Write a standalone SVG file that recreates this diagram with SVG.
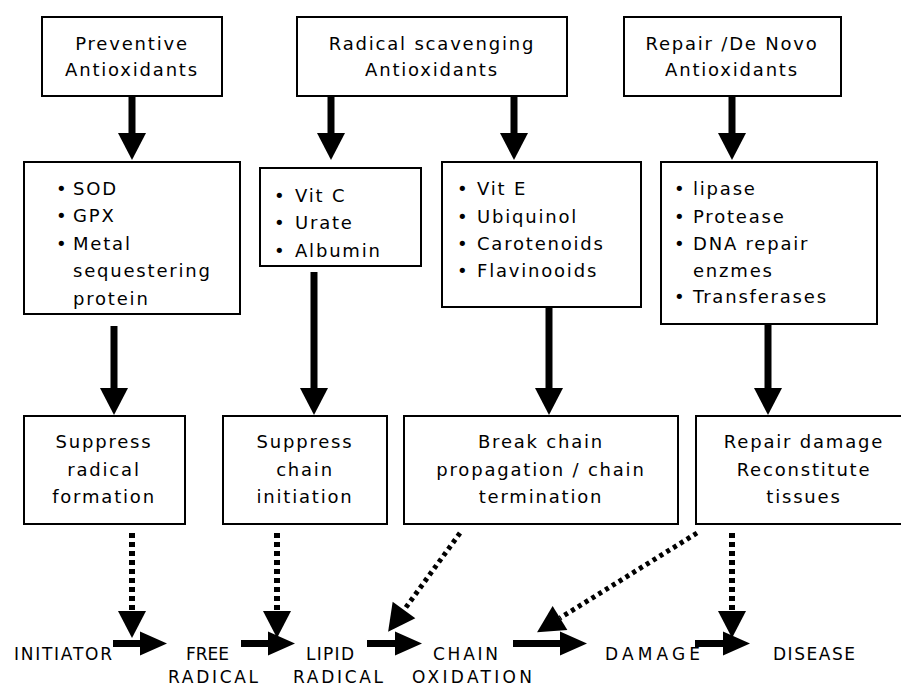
<svg xmlns="http://www.w3.org/2000/svg" width="901" height="686" viewBox="0 0 901 686">
<defs>
<marker id="hv" markerUnits="userSpaceOnUse" markerWidth="28" markerHeight="28" refX="0" refY="14" orient="auto" overflow="visible"><path d="M0,0 L27,14 L0,28 Z" fill="#000"/></marker>
<marker id="hh" markerUnits="userSpaceOnUse" markerWidth="28" markerHeight="26" refX="0" refY="12" orient="auto" overflow="visible"><path d="M0,0 L27,12 L0,24 Z" fill="#000"/></marker>
</defs>
<style>
rect{fill:#fff;stroke:#000;stroke-width:2}
text{font-family:"DejaVu Sans","Liberation Sans",sans-serif;font-size:18px;letter-spacing:1.8px;fill:#000}
.c{text-anchor:middle}
.cap{font-size:17px;letter-spacing:0}
.s{stroke:#000;stroke-width:7;fill:none}
.sv{marker-end:url(#hv)}
.sh{marker-end:url(#hh)}
.d{stroke:#000;stroke-width:6;stroke-dasharray:5 4;fill:none;marker-end:url(#hv)}
.dd{stroke:#000;stroke-width:5;stroke-dasharray:4 4;fill:none;marker-end:url(#hv)}
</style>
<rect x="0" y="0" width="901" height="686" style="stroke:none"/>
<g id="connectors">
<line class="s sv" x1="132" y1="92" x2="132" y2="133"/>
<line class="s sv" x1="331" y1="92" x2="331" y2="133"/>
<line class="s sv" x1="514" y1="92" x2="514" y2="133"/>
<line class="s sv" x1="732" y1="92" x2="732" y2="133"/>
<line class="s sv" x1="114" y1="326" x2="114" y2="388"/>
<line class="s sv" x1="314" y1="272" x2="314" y2="388"/>
<line class="s sv" x1="549" y1="307" x2="549" y2="388"/>
<line class="s sv" x1="768" y1="324" x2="768" y2="388"/>
<line class="d" x1="132" y1="533" x2="132" y2="611"/>
<line class="d" x1="277" y1="533" x2="277" y2="611"/>
<line class="dd" x1="460" y1="533" x2="404" y2="610"/>
<line class="dd" x1="697" y1="533" x2="560" y2="618"/>
<line class="d" x1="732" y1="533" x2="732" y2="611"/>
<line class="s sh" x1="113" y1="643.5" x2="140" y2="643.5"/>
<line class="s sh" x1="241" y1="643.5" x2="268" y2="643.5"/>
<line class="s sh" x1="367" y1="643.5" x2="395" y2="643.5"/>
<line class="s sh" x1="513" y1="643.5" x2="560" y2="643.5"/>
<line class="s sh" x1="695" y1="643.5" x2="723" y2="643.5"/>
</g>
<g id="preventive">
<rect x="42" y="17" width="180" height="79"/>
<text class="c" x="132" y="50">Preventive</text>
<text class="c" x="132" y="76">Antioxidants</text>
</g>
<g id="scavenging">
<rect x="297" y="17" width="270" height="79"/>
<text class="c" x="432" y="50">Radical scavenging</text>
<text class="c" x="432" y="76">Antioxidants</text>
</g>
<g id="repair">
<rect x="624" y="17" width="217" height="79"/>
<text class="c" x="732" y="50">Repair /De Novo</text>
<text class="c" x="732" y="76">Antioxidants</text>
</g>
<g id="list1">
<rect x="24" y="162" width="216" height="152"/>
<text x="56" y="195">•</text><text x="73" y="195">SOD</text>
<text x="56" y="222">•</text><text x="73" y="222">GPX</text>
<text x="56" y="250">•</text><text x="73" y="250">Metal</text>
<text x="73" y="277">sequestering</text>
<text x="73" y="305">protein</text>
</g>
<g id="list2">
<rect x="260" y="168" width="161" height="98"/>
<text x="274" y="202">•</text><text x="295" y="202">Vit C</text>
<text x="274" y="229">•</text><text x="295" y="229">Urate</text>
<text x="274" y="257">•</text><text x="295" y="257">Albumin</text>
</g>
<g id="list3">
<rect x="442" y="162" width="199" height="145"/>
<text x="457" y="195">•</text><text x="477" y="195">Vit E</text>
<text x="457" y="223">•</text><text x="477" y="223">Ubiquinol</text>
<text x="457" y="250">•</text><text x="477" y="250">Carotenoids</text>
<text x="457" y="277">•</text><text x="477" y="277">Flavinooids</text>
</g>
<g id="list4">
<rect x="661" y="162" width="216" height="162"/>
<text x="674" y="195">•</text><text x="693" y="195">lipase</text>
<text x="674" y="223">•</text><text x="693" y="223">Protease</text>
<text x="674" y="250">•</text><text x="693" y="250">DNA repair</text>
<text x="693" y="277">enzmes</text>
<text x="674" y="303">•</text><text x="693" y="303">Transferases</text>
</g>
<g id="effect1">
<rect x="24" y="416" width="161" height="108"/>
<text class="c" x="104" y="448">Suppress</text>
<text class="c" x="104" y="476">radical</text>
<text class="c" x="104" y="503">formation</text>
</g>
<g id="effect2">
<rect x="223" y="416" width="164" height="108"/>
<text class="c" x="305" y="448">Suppress</text>
<text class="c" x="305" y="476">chain</text>
<text class="c" x="305" y="503">initiation</text>
</g>
<g id="effect3">
<rect x="404" y="416" width="274" height="108"/>
<text class="c" x="541" y="448">Break chain</text>
<text class="c" x="541" y="476">propagation / chain</text>
<text class="c" x="541" y="503">termination</text>
</g>
<g id="effect4">
<rect x="696" y="416" width="216" height="108"/>
<text class="c" x="804" y="448">Repair damage</text>
<text class="c" x="804" y="476">Reconstitute</text>
<text class="c" x="804" y="503">tissues</text>
</g>
<g id="initiator"><text class="cap" x="14" y="660" textLength="98" lengthAdjust="spacing">INITIATOR</text></g>
<g id="free-radical">
<text class="cap c" x="207.5" y="660" textLength="43" lengthAdjust="spacing">FREE</text>
<text class="cap c" x="213" y="683" textLength="90" lengthAdjust="spacing">RADICAL</text>
</g>
<g id="lipid-radical">
<text class="cap c" x="330" y="660" textLength="48" lengthAdjust="spacing">LIPID</text>
<text class="cap c" x="338" y="683" textLength="90" lengthAdjust="spacing">RADICAL</text>
</g>
<g id="chain-oxidation">
<text class="cap c" x="465.5" y="660" textLength="65" lengthAdjust="spacing">CHAIN</text>
<text class="cap c" x="472" y="683" textLength="120" lengthAdjust="spacing">OXIDATION</text>
</g>
<g id="damage"><text class="cap c" x="652.5" y="660" textLength="95" lengthAdjust="spacing">DAMAGE</text></g>
<g id="disease"><text class="cap c" x="814" y="660" textLength="82" lengthAdjust="spacing">DISEASE</text></g>
</svg>
